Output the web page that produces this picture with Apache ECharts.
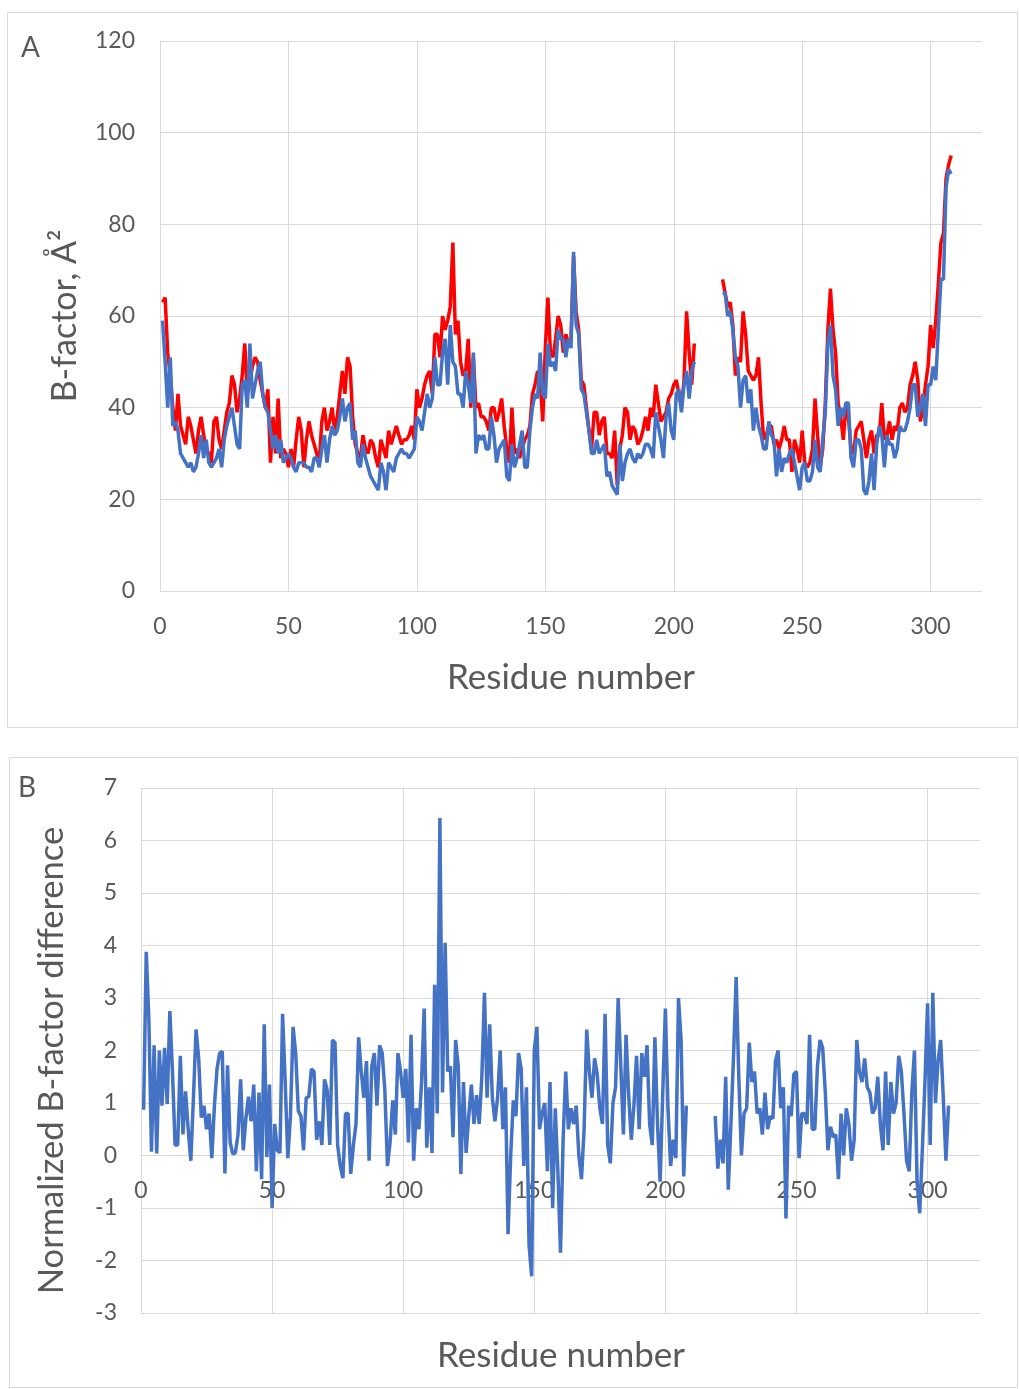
<!DOCTYPE html>
<html>
<head>
<meta charset="utf-8">
<script src="https://cdn.jsdelivr.net/npm/echarts@6/dist/echarts.min.js"></script>
<style>
  html, body { margin: 0; padding: 0; background: #fff; }
  #chart { width: 1019px; height: 1389px; }
</style>
</head>
<body>
<div id="chart"></div>
<script>
// B-factor per residue (residue 1..308), gap 209-218
var redB = [
  63,64,52,47,40,35,43,36,34,32, 38,36,33,30,35,38,34,31,30,28, 37,38,33,31,35,39,41,47,45,39,
  42,47,54,43,46,49,51,50,46,43, 40,44,28,38,30,42,29,31,30,27,
  31,27,33,38,35,27,33,37,34,32, 30,28,37,40,35,37,40,35,38,43, 48,43,51,49,38,32,30,29,34,31,
  30,33,32,29,27,33,31,29,35,32, 34,36,34,32,33,33,34,36,33,44,
  40,42,45,47,48,43,56,56,51,60, 57,59,62,76,56,59,50,47,48,55, 40,51,40,41,38,38,37,35,40,40,
  37,39,42,36,31,28,40,30,31,29, 31,33,34,36,43,45,48,46,37,53, 64,52,51,55,60,
  58,52,56,54,55,73,61,57,46,45, 40,35,31,39,39,34,37,38,30,30, 29,35,23,31,34,40,39,33,36,35,
  32,33,35,38,35,40,38,45,41,37, 38,39,42,43,45,46,43,40,46,61, 52,45,54,
  null,null,null,null,null,null,null,null,null,null,
  68,65,62,63,58,47,51,50,61,56, 48,47,46,47,51,41,33,34,36,36, 32,33,31,33,36,33,33,26,33,31,
  28,35,28,27,28,31,42,34,27,31, 41,57,66,
  57,52,41,38,33,40,38,31,30,35, 36,37,33,29,33,35,30,34,34,41, 33,34,37,33,36,35,40,41,39,40,
  45,47,50,46,37,40,45,49,58,53, 59,67,76,78,90,93,95
];
var blueB = [
  59,50,40,51,36,37,35,30,29,28, 27,28,26,27,30,34,29,33,28,27, 28,29,31,27,33,36,38,40,36,32,
  31,45,46,40,54,42,45,48,50,43, 40,39,35,31,34,30,33,28,29,30,
  29,27,26,28,28,28,27,27,26,29, 29,27,31,34,28,33,36,34,35,38, 42,37,40,41,33,35,28,27,32,29,
  27,25,24,23,22,28,26,22,28,27, 26,29,30,31,30,30,29,30,31,38,
  37,35,39,43,40,42,51,45,45,52, 55,45,58,50,49,43,43,40,48,45, 41,52,30,34,33,34,31,31,38,34,
  28,31,32,33,25,24,32,27,29,32, 35,27,27,35,40,43,42,52,43,42, 54,49,50,48,57,
  55,55,51,55,53,74,58,56,44,43, 39,35,30,30,33,30,31,32,25,26, 23,22,21,32,24,28,30,31,29,28,
  30,29,30,32,32,31,29,39,36,33, 29,38,41,35,33,43,44,39,45,48, 42,48,50,
  null,null,null,null,null,null,null,null,null,null,
  65,65,60,61,57,51,49,40,46,47, 41,44,35,40,36,34,31,31,37,34, 33,25,31,26,29,28,30,31,28,25,
  22,27,28,24,24,26,33,27,26,33, 39,54,58,
  47,44,36,40,38,41,41,29,27,33, 33,31,22,21,24,30,22,32,36,34, 27,34,32,32,29,31,36,35,35,37,
  40,45,45,38,40,43,36,45,45,49, 46,57,68,68,88,92,91
];
// normalized B-factor difference
var diffB = [
  0.87,3.88,2.6,0.07,2.1,0.04,2.0,0.95,2.05,0.98, 2.75,1.6,0.2,0.2,1.9,0.4,1.22,0.5,-0.1,1.1,
  2.4,1.85,0.72,0.95,0.5,0.8,-0.05,0.95,1.65,1.95, 1.98,-0.34,1.72,0.25,0.03,0.05,0.4,1.45,0.1,0.7,
  1.12,0.65,1.35,-0.3,1.2,-0.45,2.5,-0.03,1.35,-1.0,
  0.6,0.1,0.05,2.7,1.4,-0.05,0.75,2.45,1.95,0.85, 0.75,0.1,1.1,1.12,1.65,1.6,0.3,0.65,0.2,1.45,
  1.25,0.2,2.2,2.15,0.2,-0.2,-0.43,0.8,0.8,-0.35, 0.2,0.6,2.25,1.6,1.1,1.8,-0.1,1.7,1.95,0.95,
  2.1,1.95,1.25,-0.2,0.25,1.05,0.4,1.95,1.6,1.1, 1.65,0.25,2.3,
  -0.1,0.9,0.5,1.4,2.8,0.15,1.3,0.05,3.25,0.8, 6.43,1.2,4.05,1.6,1.7,0.35,2.2,1.7,-0.35,1.4,
  0.05,0.75,1.35,0.6,1.15,0.6,1.5,3.1,1.1,2.5, 1.1,0.65,1.1,2.0,0.5,1.3,-1.5,0.0,1.05,0.75,
  1.95,1.65,-0.2,1.3,-1.7,-2.3,2.0,2.45,0.5,0.8, 1.0,-0.3,
  1.4,-1.0,0.9,-0.3,-1.85,0.3,1.6,0.5,0.9,0.6, 0.95,0.0,-0.45,0.5,2.4,1.6,1.1,1.85,1.55,0.9,
  0.6,2.7,0.2,-0.15,1.0,1.3,3.0,1.7,0.4,2.3, 1.15,0.3,0.95,1.9,0.5,1.95,1.5,2.1,0.6,0.2,
  2.25,0.6,-0.5,1.2,2.8,0.9,-0.2,0.3,-0.05,3.0, 2.2,-0.4,0.95,
  null,null,null,null,null,null,null,null,null,null,
  0.75,-0.25,0.3,-0.15,1.5,-0.65,0.6,1.9,3.4,1.5, 0.0,0.8,0.9,2.15,1.4,1.6,0.8,0.9,0.4,1.2,
  0.5,0.75,0.7,1.8,2.0,0.9,1.3,-1.2,0.95,0.75, 1.55,1.6,-0.05,0.8,0.8,0.6,2.3,0.5,0.5,1.7,
  2.2,2.05,1.2,
  0.1,0.55,0.35,0.4,-0.45,0.8,0.0,0.9,0.6,-0.1, 0.3,2.2,1.6,1.4,1.85,1.3,1.2,0.8,0.9,1.5,
  0.6,0.1,1.6,0.2,1.4,0.8,1.0,1.9,1.6,0.8, -0.1,-0.3,1.2,2.0,-0.5,-1.1,0.1,1.4,2.9,0.2,
  3.1,1.0,1.8,2.2,1.1,-0.1,0.95
];
var xTicks = [0, 50, 100, 150, 200, 250, 300];

var FONT = 'Lato';
var TXT = '#595959';
var GRIDC = '#d9d9d9';

function toPairs(arr) {
  return arr.map(function (v, i) { return [i + 1, v === null ? '-' : v]; });
}

// panel B: x axis sits on y = 0  (3 of 10 units above the bottom of a 525px grid)
var B_ZERO_OFFSET = -525 * 3 / 10;

function xAxisCfg(gridIndex) {
  return {
    type: 'value', gridIndex: gridIndex, min: 0, max: 320, interval: 50,
    position: 'bottom',
    offset: gridIndex === 1 ? B_ZERO_OFFSET : 0,
    axisLine: { show: gridIndex === 1, onZero: false, lineStyle: { color: GRIDC, width: 1 } },
    axisTick: { show: false, customValues: xTicks },
    axisLabel: {
      color: TXT, fontFamily: FONT, fontSize: 23, margin: 24,
      customValues: xTicks
    },
    splitLine: { show: true, lineStyle: { color: GRIDC, width: 1 } }
  };
}

var chart = echarts.init(document.getElementById('chart'));
var option = {
  animation: false,
  backgroundColor: '#fff',
  textStyle: { fontFamily: FONT },
  grid: [
    { left: 160, top: 41, width: 822, height: 550 },
    { left: 141, top: 788, width: 839, height: 525 }
  ],
  xAxis: [
    Object.assign(xAxisCfg(0), {
      name: 'Residue number', nameLocation: 'middle', nameGap: 69,
      nameTextStyle: { color: TXT, fontFamily: FONT, fontSize: 35 }
    }),
    xAxisCfg(1)
  ],
  yAxis: [
    {
      type: 'value', gridIndex: 0, min: 0, max: 120, interval: 20,
      name: 'B-factor, Å²', nameLocation: 'middle', nameGap: 78,
      nameTextStyle: { color: TXT, fontFamily: FONT, fontSize: 34 },
      axisLine: { show: false }, axisTick: { show: false },
      axisLabel: { color: TXT, fontFamily: FONT, fontSize: 23, margin: 25 },
      splitLine: { lineStyle: { color: GRIDC, width: 1 } }
    },
    {
      type: 'value', gridIndex: 1, min: -3, max: 7, interval: 1,
      name: 'Normalized B-factor difference', nameLocation: 'middle', nameGap: 72,
      nameTextStyle: { color: TXT, fontFamily: FONT, fontSize: 34.5, padding: [0, 20, 0, 0] },
      axisLine: { show: false }, axisTick: { show: false },
      axisLabel: { color: TXT, fontFamily: FONT, fontSize: 23, margin: 24 },
      splitLine: { lineStyle: { color: GRIDC, width: 1 } }
    }
  ],
  graphic: [
    { type: 'rect', shape: { x: 7.5, y: 12.5, width: 1010, height: 715 },
      style: { fill: 'none', stroke: GRIDC, lineWidth: 1 } },
    { type: 'rect', shape: { x: 9.5, y: 757.5, width: 1008, height: 630 },
      style: { fill: 'none', stroke: GRIDC, lineWidth: 1 } },
    { type: 'text', left: 21, top: 34,
      style: { text: 'A', fill: TXT, font: '28px Lato' } },
    { type: 'text', left: 18, top: 774,
      style: { text: 'B', fill: TXT, font: '28px Lato' } },
    { type: 'text', left: 437, top: 1338,
      style: { text: 'Residue number', fill: TXT, font: '35px Lato' } }
  ],
  series: [
    { type: 'line', xAxisIndex: 0, yAxisIndex: 0, data: toPairs(redB),
      showSymbol: false, symbol: 'none', connectNulls: false,
      lineStyle: { color: '#ff0000', width: 3.5 }, itemStyle: { color: '#ff0000' } },
    { type: 'line', xAxisIndex: 0, yAxisIndex: 0, data: toPairs(blueB),
      showSymbol: false, symbol: 'none', connectNulls: false,
      lineStyle: { color: '#4472c4', width: 3.5 }, itemStyle: { color: '#4472c4' } },
    { type: 'line', xAxisIndex: 1, yAxisIndex: 1, data: toPairs(diffB),
      showSymbol: false, symbol: 'none', connectNulls: false,
      lineStyle: { color: '#4472c4', width: 3.5 }, itemStyle: { color: '#4472c4' } }
  ]
};
chart.setOption(option);
</script>
</body>
</html>
